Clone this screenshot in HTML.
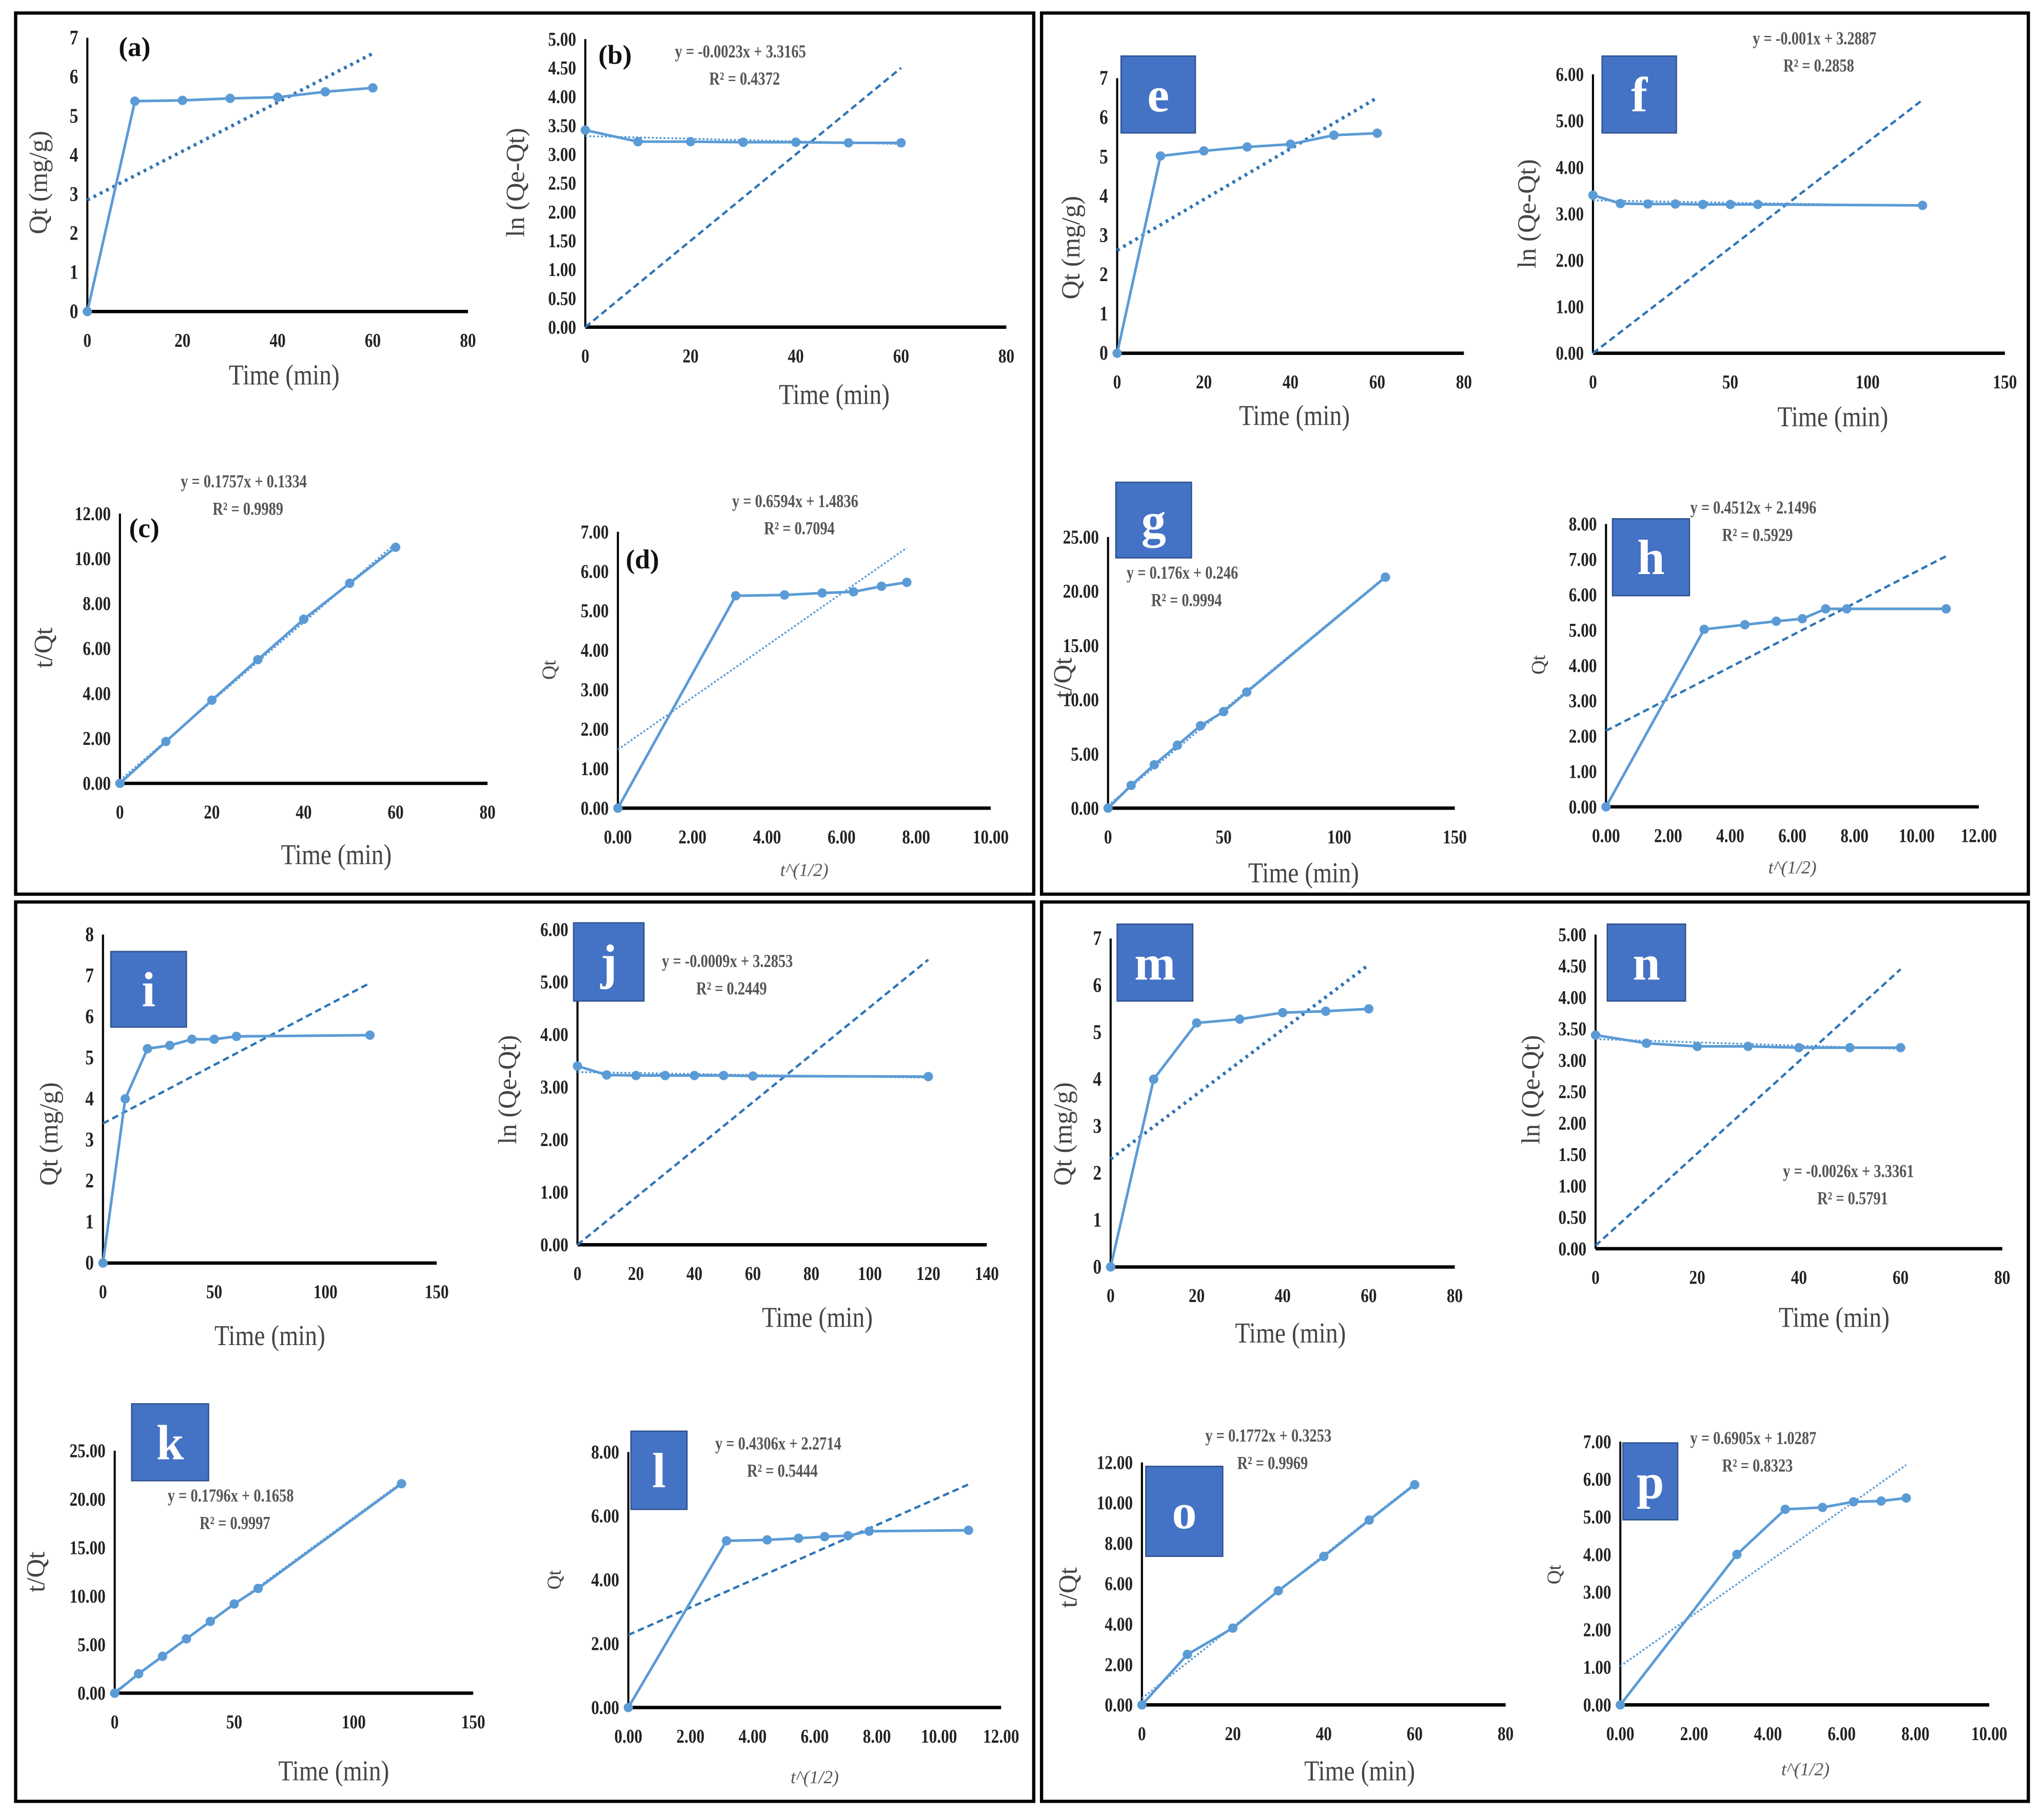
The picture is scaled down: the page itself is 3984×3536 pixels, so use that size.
<!DOCTYPE html>
<html><head><meta charset="utf-8"><style>
html,body{margin:0;padding:0;background:#fff;}
svg{display:block;}
text{font-family:"Liberation Serif",serif;}
</style></head><body>
<svg id="fig" width="3984" height="3536" viewBox="0 0 1568 1391.7" preserveAspectRatio="none" xmlns="http://www.w3.org/2000/svg">
<rect x="0" y="0" width="1568" height="1392" fill="#fff"/>
<rect x="12" y="10" width="781" height="676" fill="none" stroke="#000" stroke-width="2.5"/>
<rect x="799" y="10" width="757" height="676" fill="none" stroke="#000" stroke-width="2.5"/>
<rect x="12" y="692" width="781" height="690" fill="none" stroke="#000" stroke-width="2.5"/>
<rect x="799" y="692" width="757" height="690" fill="none" stroke="#000" stroke-width="2.5"/>
<g id="charts"></g>
</svg>
<script>
// ---- data arrays ----
const t7 = [0,10,20,30,40,50,60];
const t8 = [0,10,20,30,40,50,60,120];
const s7 = [0,3.16,4.47,5.48,6.32,7.07,7.75];
const s8 = [0,3.16,4.47,5.48,6.32,7.07,7.75,10.95];
const aQ = [0,5.38,5.4,5.45,5.48,5.62,5.72];
const bLn = [3.42,3.22,3.22,3.21,3.21,3.2,3.2];
const cTQ = [0,1.86,3.7,5.5,7.3,8.9,10.5];
const dQ = [0,5.38,5.4,5.45,5.48,5.62,5.72];
const eQ = [0,5.02,5.15,5.25,5.32,5.55,5.6];
const fLn = [3.4,3.22,3.21,3.21,3.2,3.2,3.2,3.18];
const gTQ = [0,2.1,4.0,5.8,7.6,8.9,10.7,21.3];
const hQ = [0,5.02,5.15,5.25,5.32,5.6,5.6,5.6];
const iQ = [0,4.0,5.22,5.3,5.45,5.45,5.52,5.55];
const jLn = [3.4,3.23,3.22,3.22,3.22,3.22,3.21,3.2];
const kTQ = [0,2.0,3.8,5.6,7.4,9.2,10.8,21.6];
const lQ = [0,5.22,5.25,5.3,5.35,5.38,5.52,5.55];
const mQ = [0,4.0,5.2,5.28,5.42,5.45,5.5];
const nLn = [3.4,3.27,3.22,3.22,3.2,3.2,3.2];
const oTQ = [0,2.5,3.8,5.65,7.35,9.15,10.9];
const pQ = [0,4.0,5.2,5.25,5.4,5.42,5.5];
// trend lines [slope, intercept, xStart, xEnd]
const aTrend=[0.0625,2.85,0,60], bTrend=[-0.0023,3.3165,0,60], bLine=[0.075,0,0,60];
const cTrend=[0.1757,0.1334,0,60], dTrend=[0.6594,1.4836,0,7.75];
const eTrend=[0.0647,2.62,0,60], fTrend=[-0.001,3.2887,0,120], fLine=[0.0454,0,0,120];
const gTrend=[0.176,0.246,0,120], hTrend=[0.4512,2.1496,0,10.95];
const iTrend=[0.0285,3.4,0,120], jTrend=[-0.0009,3.2853,0,120], jLine=[0.0452,0,0,120];
const kTrend=[0.1796,0.1658,0,120], lTrend=[0.4306,2.2714,0,10.95];
const mTrend=[0.069,2.3,0,60], nTrend=[-0.0026,3.3361,0,60], nLine=[0.0733,0.05,0,60];
const oTrend=[0.1772,0.3253,0,60], pTrend=[0.6905,1.0287,0,7.75];

// ---- layout config ----
const panels = [
 {id:'a',box:[67,239,359,29],xmax:80,xstep:20,ymax:7,ystep:1,dec:0,x:t7,y:aQ,tr:[[aTrend,'dot']],yl:'Qt (mg/g)',xl:'Time  (min)',xlx:218,xly:295,tag:[91,43],yly:140,ylx:36},
 {id:'b',box:[449,251,772,30],xmax:80,xstep:20,ymax:5,ystep:0.5,dec:2,x:t7,y:bLn,tr:[[bTrend,'fine'],[bLine,'dash']],yl:'ln (Qe-Qt)',xl:'Time  (min)',xlx:640,xly:310,tag:[459,49],eq:['y = -0.0023x + 3.3165','R² = 0.4372',568,40],yly:140,ylx:402},
 {id:'c',box:[92,601,374,394],xmax:80,xstep:20,ymax:12,ystep:2,dec:2,x:t7,y:cTQ,tr:[[cTrend,'fine']],yl:'t/Qt',xl:'Time (min)',xlx:258,xly:663,tag:[99,412],eq:['y = 0.1757x + 0.1334','R² = 0.9989',187,370],yly:497,ylx:40},
 {id:'d',box:[474,620,760,408],xmax:10,xstep:2,ymax:7,ystep:1,dec:2,x:s7,y:dQ,tr:[[dTrend,'fine']],yl:'Qt',xl:'t^(1/2)',xsmall:1,xlx:617,xly:672,tag:[480,436],eq:['y = 0.6594x + 1.4836','R² = 0.7094',610,385],yly:514,ylx:426},
 {id:'e',box:[857,271,1123,60],xmax:80,xstep:20,ymax:7,ystep:1,dec:0,x:t7,y:eQ,tr:[[eTrend,'dot']],yl:'Qt (mg/g)',xl:'Time (min)',xlx:993,xly:326,box2:[860,43,57,59],yly:190,ylx:828},
 {id:'f',box:[1222,271,1538,57],xmax:150,xstep:50,ymax:6,ystep:1,dec:2,x:t8,y:fLn,tr:[[fTrend,'fine'],[fLine,'dash']],yl:'ln (Qe-Qt)',xl:'Time (min)',xlx:1406,xly:327,box2:[1229,43,57,59],eq:['y = -0.001x + 3.2887','R² = 0.2858',1392,30],yly:164,ylx:1178},
 {id:'g',box:[850,620,1116,412],xmax:150,xstep:50,ymax:25,ystep:5,dec:2,x:t8,y:gTQ,tr:[[gTrend,'fine']],yl:'t/Qt',xl:'Time (min)',xlx:1000,xly:677,box2:[856,370,58,58],eq:['y = 0.176x + 0.246','R² = 0.9994',907,440],yly:520,ylx:822},
 {id:'h',box:[1232,619,1518,402],xmax:12,xstep:2,ymax:8,ystep:1,dec:2,x:s8,y:hQ,tr:[[hTrend,'dash']],yl:'Qt',xl:'t^(1/2)',xsmall:1,xlx:1375,xly:670,box2:[1237,398,59,59],eq:['y = 0.4512x + 2.1496','R² = 0.5929',1345,390],yly:510,ylx:1185},
 {id:'i',box:[79,969,335,717],xmax:150,xstep:50,ymax:8,ystep:1,dec:0,x:t8,y:iQ,tr:[[iTrend,'dash']],yl:'Qt (mg/g)',xl:'Time (min)',xlx:207,xly:1032,box2:[85,730,58,58],yly:870,ylx:44},
 {id:'j',box:[443,955,757,713],xmax:140,xstep:20,ymax:6,ystep:1,dec:2,x:t8,y:jLn,tr:[[jTrend,'fine'],[jLine,'dash']],yl:'ln (Qe-Qt)',xl:'Time (min)',xlx:627,xly:1018,box2:[440,708,54,60],eq:['y = -0.0009x + 3.2853','R² = 0.2449',558,738],yly:836,ylx:396},
 {id:'k',box:[88,1299,363,1113],xmax:150,xstep:50,ymax:25,ystep:5,dec:2,x:t8,y:kTQ,tr:[[kTrend,'fine']],yl:'t/Qt',xl:'Time    (min)',xlx:256,xly:1366,box2:[101,1077,59,59],eq:['y = 0.1796x + 0.1658','R² = 0.9997',177,1148],yly:1206,ylx:34},
 {id:'l',box:[482,1310,768,1114],xmax:12,xstep:2,ymax:8,ystep:2,dec:2,x:s8,y:lQ,tr:[[lTrend,'dash']],yl:'Qt',xl:'t^(1/2)',xsmall:1,xlx:625,xly:1368,box2:[484,1098,43,60],eq:['y = 0.4306x + 2.2714','R² = 0.5444',597,1108],yly:1212,ylx:430},
 {id:'m',box:[852,972,1116,720],xmax:80,xstep:20,ymax:7,ystep:1,dec:0,x:t7,y:mQ,tr:[[mTrend,'dot']],yl:'Qt (mg/g)',xl:'Time    (min)',xlx:990,xly:1030,box2:[857,709,58,59],yly:870,ylx:822},
 {id:'n',box:[1224,958,1536,717],xmax:80,xstep:20,ymax:5,ystep:0.5,dec:2,x:t7,y:nLn,tr:[[nTrend,'fine'],[nLine,'dash']],yl:'ln (Qe-Qt)',xl:'Time   (min)',xlx:1407,xly:1018,box2:[1233,709,60,59],eq:['y = -0.0026x + 3.3361','R² = 0.5791',1418,899],yly:836,ylx:1181},
 {id:'o',box:[876,1308,1155,1122],xmax:80,xstep:20,ymax:12,ystep:2,dec:2,x:t7,y:oTQ,tr:[[oTrend,'fine']],yl:'t/Qt',xl:'Time    (min)',xlx:1043,xly:1366,box2:[879,1125,59,69],eq:['y = 0.1772x + 0.3253','R² = 0.9969',973,1102],yly:1218,ylx:826},
 {id:'p',box:[1243,1308,1526,1106],xmax:10,xstep:2,ymax:7,ystep:1,dec:2,x:s7,y:pQ,tr:[[pTrend,'fine']],yl:'Qt',xl:'t^(1/2)',xsmall:1,xlx:1385,xly:1362,box2:[1245,1107,42,59],eq:['y = 0.6905x + 1.0287','R² = 0.8323',1345,1104],yly:1208,ylx:1197}
];

const NS='http://www.w3.org/2000/svg';
const root=document.getElementById('charts');
function mk(tag,attrs,parent,txt){const e=document.createElementNS(NS,tag);for(const k in attrs)e.setAttribute(k,attrs[k]);if(txt!==undefined)e.textContent=txt;parent.appendChild(e);return e;}
const LINE='#5b9bd5', TREND='#2e75b6';

panels.forEach(p=>{
  const g=mk('g',{},root);
  
  
  const [x0,y0,x1,y1]=p.box;
  const sx=v=>x0+(x1-x0)*v/p.xmax;
  const sy=v=>y0-(y0-y1)*v/p.ymax;
  const ya=mk('line',{x1:x0,y1:y0,x2:x0,y2:y1,stroke:'#000','stroke-width':1.6},g);
  
  
  const xa=mk('line',{x1:x0,y1:y0,x2:x1,y2:y0,stroke:'#000','stroke-width':2.6},g);
  
  
  const xd=(p.xstep<10&&p.dec)?2:0;
  for(let v=0;v<=p.xmax+1e-9;v+=p.xstep){
    const t=mk('text',{x:sx(v),y:y0+27,'text-anchor':'middle','font-size':15,'font-weight':'bold',fill:'#222',transform:`translate(${sx(v)},0) scale(0.82,1) translate(${-sx(v)},0)`},g,v.toFixed(xd));
    
    
  }
  for(let v=0;v<=p.ymax+1e-9;v+=p.ystep){
    const xx=x0-7;
    const t=mk('text',{x:xx,y:sy(v)+5,'text-anchor':'end','font-size':p.dec?15:16,'font-weight':'bold',fill:'#222',transform:`translate(${xx},0) scale(0.82,1) translate(${-xx},0)`},g,v.toFixed(p.dec));
    
    
  }
  p.tr.forEach(([tr,sty])=>{
    const [m,b,xs,xe]=tr;
    const da=sty==='dot'?'2.2 3.2':sty==='dash'?'5 3':'1.5 1.5';
    const sw=sty==='dot'?2.6:sty==='dash'?1.8:1.4;
    const l=mk('line',{x1:sx(xs),y1:sy(m*xs+b),x2:sx(xe),y2:sy(m*xe+b),stroke:sty==='fine'?LINE:TREND,'stroke-width':sw,'stroke-dasharray':da},g);
    
    
  });
  const pts=p.x.map((v,i)=>sx(v)+','+sy(p.y[i])).join(' ');
  const pl=mk('polyline',{points:pts,fill:'none',stroke:LINE,'stroke-width':2},g);
  
  
  p.x.forEach((v,i)=>{
    const c=mk('circle',{cx:sx(v),cy:sy(p.y[i]),r:3.6,fill:LINE},g);
    
    
  });
  let xt;
  if(p.xsmall){
    xt=mk('text',{x:p.xlx,y:p.xly,'text-anchor':'middle','font-size':14,'font-style':'italic',fill:'#555'},g,p.xl);
  } else {
    xt=mk('text',{x:p.xlx,y:p.xly,'text-anchor':'middle','font-size':22,fill:'#444',transform:`translate(${p.xlx},0) scale(0.85,1) translate(${-p.xlx},0)`},g,p.xl);
  }
  
  
  const yt=mk('text',{x:0,y:0,'text-anchor':'middle','font-size':p.yl==='Qt'?15:20,fill:'#444',transform:`translate(${p.ylx},${p.yly}) rotate(-90)`},g,p.yl);
  
  
  if(p.eq){
    const e1=mk('text',{x:p.eq[2],y:p.eq[3]+4,'text-anchor':'middle','font-size':14,'font-weight':'bold',fill:'#555',transform:`translate(${p.eq[2]},0) scale(0.8,1) translate(${-p.eq[2]},0)`},g,p.eq[0]);
    
    
    const e2=mk('text',{x:p.eq[2]+4,y:p.eq[3]+25,'text-anchor':'middle','font-size':14,'font-weight':'bold',fill:'#555',transform:`translate(${p.eq[2]},0) scale(0.8,1) translate(${-p.eq[2]},0)`},g,p.eq[1]);
    
    
  }
  if(p.tag){
    const t=mk('text',{x:p.tag[0],y:p.tag[1],'font-size':21,'font-weight':'bold',fill:'#111'},g,'('+p.id+')');
    
    
  }
  if(p.box2){
    const [bx,by,bw,bh]=p.box2;
    const r=mk('rect',{x:bx,y:by,width:bw,height:bh,fill:'#4472c4',stroke:'#2f528f','stroke-width':1},g);
    
    
    const t=mk('text',{x:bx+bw/2,y:by+bh/2+13,'text-anchor':'middle','font-size':38,'font-weight':'bold',fill:'#fff'},g,p.id);
    
    
  }
});
</script>
</body></html>
